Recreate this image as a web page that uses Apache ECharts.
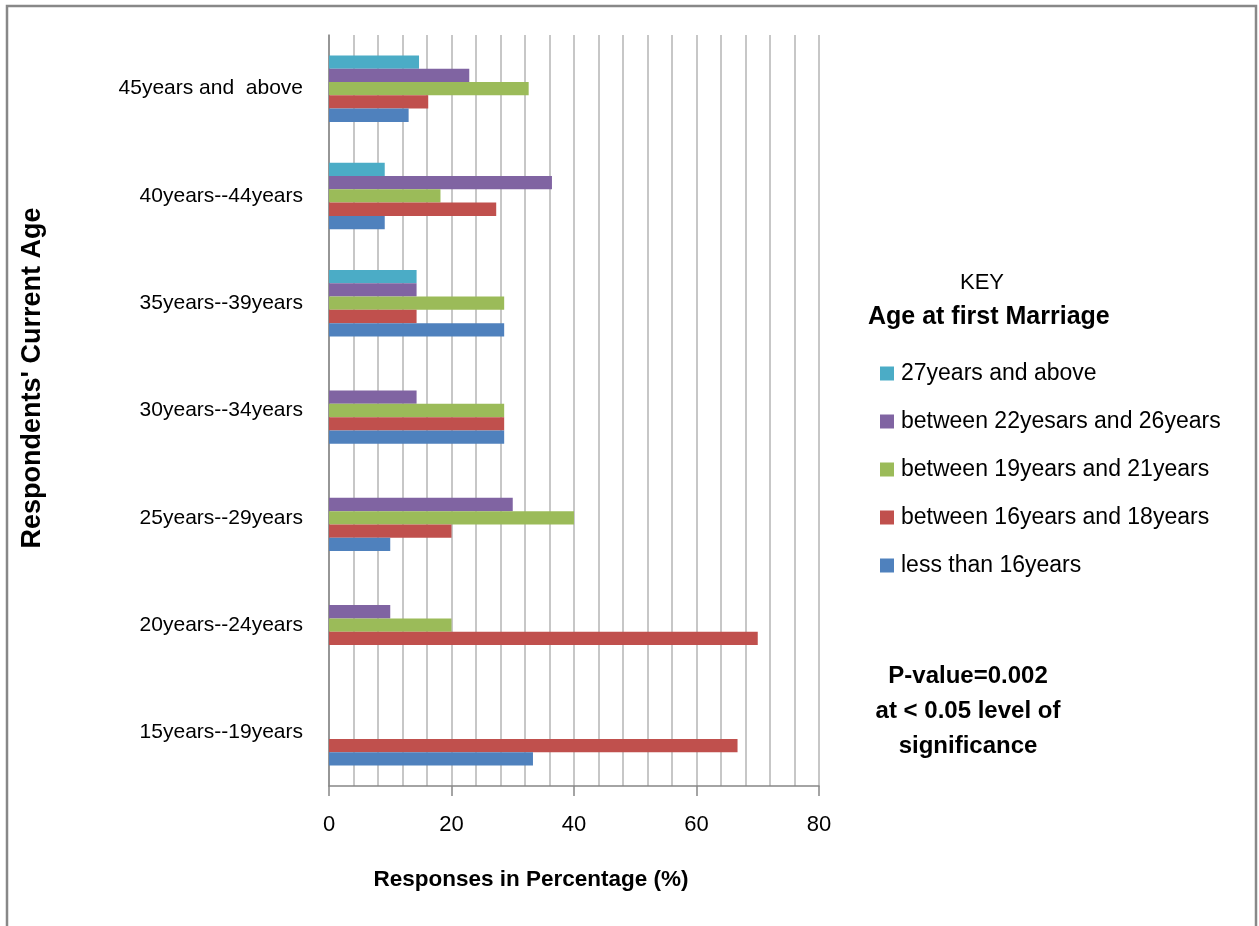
<!DOCTYPE html>
<html>
<head>
<meta charset="utf-8">
<script src="https://cdn.jsdelivr.net/npm/echarts@6/dist/echarts.min.js"></script>
<style>
html,body{margin:0;padding:0;background:#fff;}
#main{width:1259px;height:926px;}
</style>
</head>
<body>
<div id="main"></div>
<script>
// Categories from bottom to top
var categories = ['15years--19years','20years--24years','25years--29years','30years--34years','35years--39years','40years--44years','45years and  above'];
var seriesNames = ['less than 16years','between 16years and 18years','between 19years and 21years','between 22yesars and 26years','27years and above'];
var lessThan16 = [33.3, 0, 10, 28.6, 28.6, 9.1, 13.0];
var from16to18 = [66.7, 70, 20, 28.6, 14.3, 27.3, 16.2];
var from19to21 = [0, 20, 40, 28.6, 28.6, 18.2, 32.6];
var from22to26 = [0, 10, 30, 14.3, 14.3, 36.4, 22.9];
var over27 = [0, 0, 0, 0, 14.3, 9.1, 14.7];
var xTicks = [0, 20, 40, 60, 80];

var colors = ['#4F81BD','#C0504D','#9BBB59','#8064A2','#4BACC6'];
var seriesData = [lessThan16, from16to18, from19to21, from22to26, over27];
var FONT = 'Liberation Sans';

var chart = echarts.init(document.getElementById('main'), null, {renderer:'canvas'});
var series = [];
for (var i = seriesData.length - 1; i >= 0; i--) {
  series.push({
    name: seriesNames[i], type: 'bar', data: seriesData[i],
    barWidth: 13.3, barGap: '0%',
    itemStyle: {color: colors[i]},
    emphasis: {disabled: true}
  });
}
chart.setOption({
  animation: false,
  backgroundColor: '#fff',
  textStyle: {fontFamily: FONT, color: '#000'},
  grid: {left: 329, right: 440, top: 35, bottom: 140, containLabel: false},
  xAxis: {
    type: 'value', min: xTicks[0], max: xTicks[xTicks.length-1], interval: 20,
    axisLine: {show: true, lineStyle: {color: '#868686', width: 1.5}},
    axisTick: {show: true, length: 10, lineStyle: {color: '#868686', width: 1.5}},
    axisLabel: {fontSize: 22, color: '#000', margin: 28, fontFamily: FONT},
    splitLine: {show: true, lineStyle: {color: '#b5b5b5', width: 1.5}},
    minorTick: {show: false, splitNumber: 5},
    minorSplitLine: {show: true, lineStyle: {color: '#b5b5b5', width: 1.5}}
  },
  yAxis: {
    type: 'category', data: categories,
    axisLine: {show: true, lineStyle: {color: '#868686', width: 1.5}},
    axisTick: {show: false},
    axisLabel: {fontSize: 21, color: '#000', margin: 26, fontFamily: FONT},
    splitLine: {show: false}
  },
  legend: {
    orient: 'vertical', left: 875, top: 357,
    itemWidth: 14, itemHeight: 14, itemGap: 25,
    icon: 'rect',
    selectedMode: false,
    data: seriesNames.slice().reverse(),
    textStyle: {fontSize: 23, color: '#000', fontFamily: FONT, lineHeight: 22, padding: [0,0,0,2]}
  },
  series: series,
  graphic: [
    {type: 'rect', silent: true, shape: {x: 7, y: 6, width: 1249, height: 960},
     style: {fill: 'none', stroke: '#888888', lineWidth: 2.5}},
    {type: 'text', silent: true, x: 982, y: 283,
     style: {text: 'KEY', font: '22px ' + FONT, fill: '#000', align: 'center', verticalAlign: 'middle'}},
    {type: 'text', silent: true, x: 868, y: 317,
     style: {text: 'Age at first Marriage', font: 'bold 25px ' + FONT, fill: '#000', align: 'left', verticalAlign: 'middle'}},
    {type: 'text', silent: true, x: 968, y: 676,
     style: {text: 'P-value=0.002', font: 'bold 24px ' + FONT, fill: '#000', align: 'center', verticalAlign: 'middle'}},
    {type: 'text', silent: true, x: 968, y: 711,
     style: {text: 'at < 0.05 level of', font: 'bold 24px ' + FONT, fill: '#000', align: 'center', verticalAlign: 'middle'}},
    {type: 'text', silent: true, x: 968, y: 746,
     style: {text: 'significance', font: 'bold 24px ' + FONT, fill: '#000', align: 'center', verticalAlign: 'middle'}},
    {type: 'text', silent: true, x: 531, y: 880,
     style: {text: 'Responses in Percentage (%)', font: 'bold 22.5px ' + FONT, fill: '#000', align: 'center', verticalAlign: 'middle'}},
    {type: 'text', silent: true, x: 33, y: 378, rotation: Math.PI/2,
     style: {text: "Respondents' Current Age", font: 'bold 27px ' + FONT, fill: '#000', align: 'center', verticalAlign: 'middle'}}
  ]
});
</script>
</body>
</html>
